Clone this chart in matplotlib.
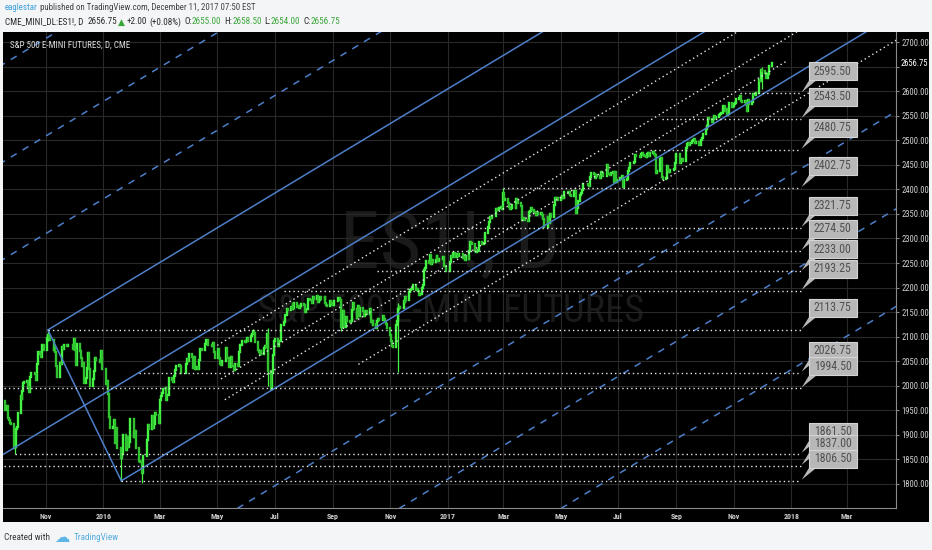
import numpy as np
import pandas as pd
import matplotlib
matplotlib.use("Agg")
import matplotlib.pyplot as plt
import matplotlib.dates as mdates
import matplotlib.transforms as mtransforms
from matplotlib.patches import Rectangle, Polygon
from matplotlib import font_manager as fm

# ------------------------------------------------------------------ data
first_day = "2015-09-17"
last_day = "2017-12-11"

c2015_09 = [1968, 1950, 1959, 1935, 1931, 1924, 1923, 1874, 1876, 1912]
c2015_10 = [1916, 1944, 1980, 1973, 1989, 2006, 2008, 2010, 1997, 1987, 2017, 2026, 2027, 2024, 2012, 2045, 2068, 2064, 2059, 2083, 2083, 2072]
c2015_11 = [2098, 2104, 2097, 2094, 2093, 2073, 2076, 2069, 2040, 2017, 2047, 2045, 2078, 2075, 2083, 2081, 2083, 2083, 2083, 2084, 2074]
c2015_12 = [2096, 2073, 2043, 2085, 2071, 2057, 2041, 2046, 2006, 2015, 2037, 2066, 2035, 1999, 2014, 2031, 2056, 2053, 2053, 2048, 2070, 2055, 2035]
c2016_01 = [2035, 2004, 2009, 1983, 1936, 1915, 1916, 1931, 1883, 1914, 1873, 1873, 1874, 1852, 1862, 1900, 1870, 1896, 1876, 1886, 1932]
c2016_02 = [1932, 1896, 1905, 1908, 1873, 1846, 1845, 1845, 1822, 1858, 1858, 1889, 1920, 1911, 1911, 1939, 1915, 1923, 1945, 1941, 1925]
c2016_03 = [1971, 1979, 1986, 1993, 1995, 1972, 1982, 1982, 2015, 2012, 2008, 2020, 2033, 2040, 2042, 2040, 2027, 2026, 2026, 2027, 2045, 2054, 2050]
c2016_04 = [2064, 2058, 2037, 2058, 2034, 2039, 2034, 2053, 2074, 2075, 2073, 2086, 2093, 2094, 2083, 2084, 2080, 2084, 2087, 2068, 2057]
c2016_05 = [2074, 2056, 2044, 2043, 2050, 2051, 2076, 2057, 2056, 2039, 2059, 2040, 2040, 2033, 2045, 2041, 2069, 2083, 2083, 2092, 2092, 2090]
c2016_06 = [2092, 2098, 2092, 2102, 2105, 2112, 2108, 2089, 2072, 2068, 2064, 2071, 2064, 2076, 2081, 2078, 2106, 2030, 1993, 2029, 2063, 2091]
c2016_07 = [2096, 2096, 2081, 2092, 2091, 2123, 2130, 2145, 2145, 2157, 2155, 2160, 2157, 2166, 2158, 2168, 2161, 2162, 2159, 2163, 2167]
c2016_08 = [2164, 2150, 2157, 2157, 2176, 2174, 2175, 2168, 2180, 2177, 2183, 2171, 2175, 2180, 2177, 2176, 2180, 2168, 2165, 2162, 2173, 2169, 2164]
c2016_09 = [2164, 2173, 2173, 2179, 2179, 2174, 2120, 2152, 2120, 2119, 2140, 2132, 2130, 2131, 2154, 2168, 2156, 2137, 2151, 2162, 2142, 2159]
c2016_10 = [2153, 2142, 2151, 2153, 2146, 2156, 2129, 2131, 2124, 2125, 2118, 2131, 2136, 2133, 2133, 2143, 2135, 2131, 2125, 2118, 2118]
c2016_11 = [2104, 2091, 2081, 2078, 2124, 2132, 2157, 2161, 2158, 2158, 2173, 2170, 2180, 2175, 2191, 2196, 2198, 2198, 2206, 2195, 2198, 2192]
c2016_12 = [2185, 2186, 2199, 2206, 2235, 2240, 2254, 2251, 2266, 2247, 2256, 2253, 2257, 2265, 2259, 2255, 2258, 2258, 2263, 2244, 2243, 2233]
c2017_01 = [2233, 2252, 2265, 2263, 2271, 2263, 2263, 2269, 2264, 2268, 2268, 2261, 2265, 2257, 2264, 2259, 2274, 2292, 2290, 2288, 2275, 2273]
c2017_02 = [2275, 2276, 2293, 2288, 2289, 2290, 2303, 2311, 2323, 2333, 2344, 2342, 2346, 2346, 2360, 2358, 2359, 2363, 2365, 2359]
c2017_03 = [2392, 2378, 2380, 2372, 2365, 2360, 2361, 2368, 2369, 2361, 2380, 2376, 2372, 2367, 2338, 2342, 2340, 2338, 2336, 2353, 2356, 2362, 2357]
c2017_04 = [2353, 2354, 2347, 2351, 2350, 2351, 2348, 2339, 2323, 2323, 2343, 2336, 2332, 2350, 2343, 2368, 2383, 2381, 2383, 2378]
c2017_05 = [2383, 2386, 2383, 2385, 2394, 2394, 2392, 2395, 2389, 2386, 2397, 2396, 2352, 2361, 2377, 2389, 2393, 2399, 2410, 2411, 2411, 2408, 2407]
c2017_06 = [2425, 2434, 2431, 2424, 2428, 2429, 2427, 2424, 2435, 2433, 2427, 2428, 2449, 2432, 2431, 2430, 2434, 2435, 2415, 2436, 2415, 2419]
c2017_07 = [2424, 2424, 2428, 2405, 2420, 2422, 2421, 2438, 2443, 2454, 2454, 2456, 2469, 2468, 2467, 2465, 2472, 2473, 2470, 2467, 2465]
c2017_08 = [2472, 2474, 2468, 2473, 2477, 2471, 2470, 2434, 2437, 2462, 2461, 2464, 2426, 2422, 2424, 2448, 2440, 2435, 2439, 2440, 2442, 2453, 2467]
c2017_09 = [2472, 2472, 2453, 2461, 2461, 2457, 2484, 2492, 2494, 2491, 2495, 2499, 2501, 2503, 2495, 2497, 2491, 2491, 2501, 2504, 2513]
c2017_10 = [2523, 2528, 2531, 2546, 2543, 2538, 2544, 2549, 2545, 2547, 2551, 2553, 2555, 2556, 2569, 2559, 2563, 2551, 2554, 2575, 2567, 2569]
c2017_11 = [2574, 2575, 2583, 2586, 2586, 2590, 2580, 2578, 2580, 2574, 2560, 2581, 2574, 2577, 2594, 2592, 2592, 2597, 2597, 2622, 2621, 2643]
c2017_12 = [2640, 2637, 2627, 2627, 2635, 2651, 2656.75]

month_keys = ["2015-09", "2015-10", "2015-11", "2015-12",
              "2016-01", "2016-02", "2016-03", "2016-04", "2016-05", "2016-06",
              "2016-07", "2016-08", "2016-09", "2016-10", "2016-11", "2016-12",
              "2017-01", "2017-02", "2017-03", "2017-04", "2017-05", "2017-06",
              "2017-07", "2017-08", "2017-09", "2017-10", "2017-11", "2017-12"]
monthly_closes = [c2015_09, c2015_10, c2015_11, c2015_12,
                  c2016_01, c2016_02, c2016_03, c2016_04, c2016_05, c2016_06,
                  c2016_07, c2016_08, c2016_09, c2016_10, c2016_11, c2016_12,
                  c2017_01, c2017_02, c2017_03, c2017_04, c2017_05, c2017_06,
                  c2017_07, c2017_08, c2017_09, c2017_10, c2017_11, c2017_12]

# notable intraday extremes (wicks)
wick_dates = ["2015-09-29", "2015-11-03", "2016-01-20", "2016-02-11", "2016-06-24",
              "2016-06-27", "2016-09-09", "2016-11-09", "2017-03-01", "2017-08-08", "2017-12-01"]
wick_highs = [1880, 2113.75, 1866, 1850, 2118, 2010, 2176, 2168, 2402.75, 2480.75, 2650]
wick_lows = [1861.5, 2092, 1806.5, 1802, 1999, 1991, 2112, 2028, 2386, 2468, 2605]

# channel drawn on the chart
chan_high_date, chan_high = "2015-11-03", 2113.75
chan_low_date, chan_low = "2016-01-20", 1806.50
chan_slope = 1.155            # points per calendar day
solid_steps = [0, 1, 2]
dashed_steps = [-3, -2, -1, 3, 4, 5]

# dotted inner trend lines (offset from lower channel line, points)
inner_offsets = [158, 85, 38, -54]
inner_starts = ["2016-05-01", "2016-05-05", "2016-05-09", "2016-09-28"]
inner_ends = ["2018-06-01", "2018-06-01", "2017-12-28", "2018-06-01"]

# horizontal levels with callouts
levels = [2595.50, 2543.50, 2480.75, 2402.75, 2321.75, 2274.50, 2233.00,
          2193.25, 2113.75, 2026.75, 1994.50, 1861.50, 1837.00, 1806.50]
level_starts = ["2017-11-08", "2017-08-17", "2017-08-04", "2017-03-01", "2016-12-05",
                "2016-12-23", "2016-10-18", "2016-07-11", "2015-11-03", "2016-02-08",
                "2015-09-17", "2015-09-29", "2015-09-17", "2016-01-20"]
level_end = "2018-01-11"

price_ticks = [1800, 1850, 1900, 1950, 2000, 2050, 2100, 2150, 2200, 2250,
               2300, 2350, 2400, 2450, 2500, 2550, 2600, 2650, 2700]
last_price = 2656.75
xtick_dates = ["2015-11-01", "2016-01-01", "2016-03-01", "2016-05-01", "2016-07-01",
               "2016-09-01", "2016-11-01", "2017-01-01", "2017-03-01", "2017-05-01",
               "2017-07-01", "2017-09-01", "2017-11-01", "2018-01-01", "2018-03-01"]
xtick_labels = ["Nov", "2016", "Mar", "May", "Jul", "Sep", "Nov", "2017",
                "Mar", "May", "Jul", "Sep", "Nov", "2018", "Mar"]

# ------------------------------------------------------------------ fonts / helpers
def has_font(name):
    try:
        fm.findfont(fm.FontProperties(family=name), fallback_to_default=False)
        return True
    except Exception:
        return False

NARROW = "Liberation Sans"
for cand in ["Liberation Sans Narrow", "DejaVu Sans Condensed", "Roboto Condensed",
             "Open Sans Condensed", "Noto Sans Condensed"]:
    if has_font(cand):
        NARROW = cand
        break
FAM = [NARROW, "DejaVu Sans"]
ID = mtransforms.IdentityTransform()

W_PX, H_PX = 932, 550
fig = plt.figure(figsize=(W_PX / 100, H_PX / 100), dpi=100)
fig.patch.set_facecolor("#f4f5f7")
renderer = fig.canvas.get_renderer()


def dn(s):
    return mdates.date2num(pd.Timestamp(s).to_pydatetime())


def text_w(s, size, weight="normal"):
    t = fig.text(0, 0, s, fontsize=size, family=FAM, fontweight=weight, transform=ID)
    w = t.get_window_extent(renderer).width
    t.remove()
    return w


def fit_size(s, target, size=8.0, weight="normal"):
    return size * target / text_w(s, size, weight)


def draw_seq(host, x0, ytop, parts, size, target=None, weight="normal",
             center=False, zorder=5):
    """parts: list of (text, color, gap_in_em)"""
    def total(sz):
        ws = [text_w(s, sz, weight) for s, c, g in parts]
        return ws, sum(ws) + sum(g for _, _, g in parts) * sz * 100 / 72
    ws, tot = total(size)
    if target:
        size = size * target / tot
        ws, tot = total(size)
    x = x0 - tot / 2 if center else x0
    for (s, c, g), w in zip(parts, ws):
        host.text(x, H_PX - ytop, s, color=c, fontsize=size, family=FAM,
                  fontweight=weight, va="center", ha="left", transform=ID,
                  zorder=zorder)
        x += w + g * size * 100 / 72


# black chart panel
fig.add_artist(Rectangle((3, H_PX - 522), 926, 490, transform=ID,
                         facecolor="#000000", edgecolor="none", zorder=-5))

ax = fig.add_axes([3 / W_PX, (H_PX - 508) / H_PX, 893 / W_PX, 476 / H_PX])
ax.set_facecolor("#000000")

origin = dn("2015-11-01")
xmin, xmax = origin - 45.7, origin + 903.3
ax.set_xlim(xmin, xmax)
ax.set_ylim(1751.1, 2720.4)

# ------------------------------------------------------------------ candles
dates, closes = [], []
for key, vals in zip(month_keys, monthly_closes):
    start = pd.Timestamp(key + "-01")
    end = start + pd.offsets.MonthEnd(0)
    if key == first_day[:7]:
        start = pd.Timestamp(first_day)
    if key == last_day[:7]:
        end = pd.Timestamp(last_day)
    bd = pd.bdate_range(start, end)
    if len(bd) != len(vals):
        bd = bd[np.round(np.linspace(0, len(bd) - 1, len(vals))).astype(int)]
    dates.extend(list(bd))
    closes.extend(vals)

xd = mdates.date2num(pd.DatetimeIndex(dates).to_pydatetime())
closes = np.array(closes, dtype=float)
opens = np.r_[closes[0], closes[:-1]]
up = closes >= opens
UP_C, DN_C = "#45f545", "#30c430"

wx = np.array([dn(d) for d in wick_dates])
ax.vlines(wx, wick_lows, wick_highs, color=UP_C, lw=0.9, zorder=2)
lc1 = ax.vlines(xd[up], opens[up], closes[up], color=UP_C, lw=1.7, zorder=2)
lc2 = ax.vlines(xd[~up], closes[~up], opens[~up], color=DN_C, lw=1.7, zorder=2)
for lc in (lc1, lc2):
    lc.set_capstyle("projecting")

# ------------------------------------------------------------------ channel
BLUE = "#4d7fc9"
hi_n, lo_n = dn(chan_high_date), dn(chan_low_date)
width = (chan_high - (chan_low + chan_slope * (hi_n - lo_n))) / 2.0


def chan(xv, k, off=0.0):
    return chan_low + chan_slope * (np.asarray(xv) - lo_n) + k * width + off


starts = {0: lo_n, 1: xmin - 50, 2: hi_n}
for k in solid_steps:
    xs = np.array([starts[k], xmax + 50])
    ax.plot(xs, chan(xs, k), color=BLUE, lw=1.1, zorder=3, solid_capstyle="butt")
ax.plot([hi_n, lo_n], [chan_high, chan_low], color=BLUE, lw=1.1, zorder=3)
for k in dashed_steps:
    xs = np.array([xmin - 50, xmax + 50])
    ax.plot(xs, chan(xs, k), color=BLUE, lw=1.1, zorder=3, ls=(0, (4.5, 4.5)))

DOT = (0, (1.0, 2.2))
WHITE = "#e8e8e8"
for off, s, e in zip(inner_offsets, inner_starts, inner_ends):
    xs = np.array([dn(s), dn(e)])
    ax.plot(xs, chan(xs, 0, off), color=WHITE, lw=1.0, ls=DOT, zorder=3)

end_n = dn(level_end)
for lvl, s in zip(levels, level_starts):
    ax.plot([dn(s), end_n], [lvl, lvl], color=WHITE, lw=1.0, ls=DOT, zorder=3)

# ------------------------------------------------------------------ axes styling
ytick_size = fit_size("2700.00", 28)
xtick_size = fit_size("2016", 16, weight="bold")
ax.set_axisbelow(True)
ax.grid(True, color="#292929", lw=0.8)
ax.yaxis.tick_right()
ax.set_yticks(price_ticks)
ax.set_yticklabels(["" if abs(v - 2650) < 1e-6 else f"{v:.2f}" for v in price_ticks])
ax.tick_params(axis="y", length=2.5, width=0.8, colors="#8a8a8a", pad=1.5,
               labelsize=ytick_size, labelcolor="#d0d0d0")
for lbl in ax.get_yticklabels():
    lbl.set_family(FAM)
ax.set_xticks([dn(d) for d in xtick_dates])
ax.set_xticklabels(xtick_labels)
ax.tick_params(axis="x", length=0, pad=3.5, labelsize=xtick_size, labelcolor="#cfcfcf")
for lbl in ax.get_xticklabels():
    lbl.set_family(FAM)
    lbl.set_fontweight("bold")
for sp in ("top", "left"):
    ax.spines[sp].set_visible(False)
for sp in ("right", "bottom"):
    ax.spines[sp].set_color("#8a8a8a")
    ax.spines[sp].set_linewidth(0.8)

ax.annotate(f"{last_price:.2f}", xy=(1, last_price), xycoords=("axes fraction", "data"),
            xytext=(5, 0), textcoords="offset pixels", va="center", ha="left",
            color="#ffffff", fontsize=ytick_size, family=FAM, annotation_clip=False)

# watermark (inside axes, below the candles)
draw_seq(ax, 450, 245, [("ES1!, D", "#1a1a1a", 0)], 53, target=220, center=True, zorder=0.1)
draw_seq(ax, 451, 311, [("S&P 500 E-MINI FUTURES", "#1a1a1a", 0)], 27, target=387,
         center=True, zorder=0.1)

# pane title
draw_seq(fig, 10, 45, [("S&P 500 E-MINI FUTURES, D, CME", "#dddddd", 0)], 7, target=121)

# ------------------------------------------------------------------ callout labels
BOX_FC, BOX_EC, BOX_TXT = "#b8b8b8", "#d4d4d4", "#505050"
box_size = fit_size("2595.50", 38)
for lvl in levels:
    px, py = ax.transData.transform((end_n, lvl))
    fig.add_artist(Polygon([(px + 1, py + 1), (px + 9, py + 14), (px + 17, py + 14)],
                           closed=True, transform=ID, facecolor=BOX_FC,
                           edgecolor="none", zorder=6))
    fig.add_artist(Rectangle((px + 8, py + 13), 48, 18, transform=ID,
                             facecolor=BOX_FC, edgecolor=BOX_EC, lw=0.8, zorder=6))
    fig.text(px + 32, py + 22, f"{lvl:.2f}", transform=ID, ha="center", va="center",
             color=BOX_TXT, fontsize=box_size, family=FAM, zorder=7)

# ------------------------------------------------------------------ header / footer
DARK = "#2a2a2a"
GREEN = "#3aa63a"
draw_seq(fig, 5, 8, [("eaglestar", "#3d9fdc", 0.25),
                     ("published on TradingView.com, December 11, 2017 07:50 EST", "#444444", 0)],
         7.5, target=252)
draw_seq(fig, 5, 22, [("CME_MINI_DL:ES1!, D", DARK, 0.45), ("2656.75", DARK, 0.12),
                      ("▲", GREEN, 0.2), ("+2.00", DARK, 0.25), ("(+0.08%)", DARK, 0.3),
                      ("O:", DARK, 0), ("2655.00", GREEN, 0.3),
                      ("H:", DARK, 0), ("2658.50", GREEN, 0.3),
                      ("L:", DARK, 0), ("2654.00", GREEN, 0.3),
                      ("C:", DARK, 0), ("2656.75", GREEN, 0)],
         7.5, target=334)
draw_seq(fig, 4, 537, [("Created with", "#3a3a3a", 0)], 7.5, target=46)
fig.text(54, H_PX - 537, "☁", transform=ID, color="#5fb4e6", fontsize=11,
         family=["DejaVu Sans"], va="center", ha="left")
draw_seq(fig, 74, 537, [("TradingView", "#55ace0", 0)], 7.5, target=45)

fig.savefig("out.png", dpi=100, facecolor=fig.get_facecolor())
